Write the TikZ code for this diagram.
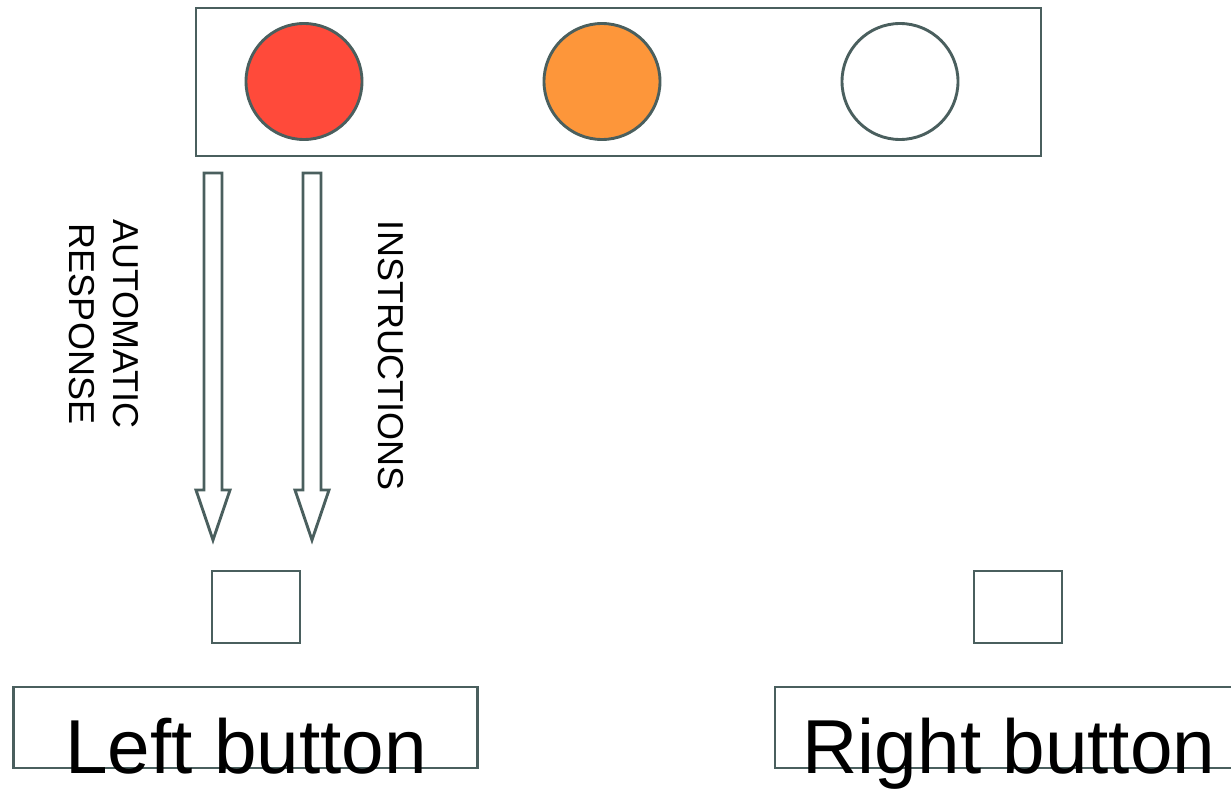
\documentclass[tikz,border=0pt]{standalone}
\usepackage{fontspec}
\setmainfont{Liberation Sans}
\definecolor{edge}{HTML}{4A5F5E}
\definecolor{lampred}{HTML}{FF4A3A}
\definecolor{lamporange}{HTML}{FD963A}
\tikzset{
  stroke/.style={draw=edge, line width=2.9bp},
  lamp/.style={stroke, circle, minimum size=116bp, inner sep=0pt},
  boxed/.style={stroke, rectangle, inner sep=0pt},
  blockarrow/.pic={\draw[stroke, line join=miter] (-9,0) -- (-9,317) -- (-17,317) -- (0,367) -- (17,317) -- (9,317) -- (9,0) -- cycle;},
  sidelabel/.style={rotate=-90, align=center, inner sep=0pt, font=\fontsize{36bp}{44bp}\selectfont},
  biglabel/.style={inner sep=0pt, anchor=base, font=\fontsize{76.5bp}{80bp}\selectfont}
}
\begin{document}
\begin{tikzpicture}[x=1bp, y=-1bp]
\useasboundingbox (0,0) rectangle (1231,789);
\clip (0,0) rectangle (1231,789);
% top panel
\node[boxed, minimum width=845bp, minimum height=148bp] (panel) at (618.5,82) {};
\node[lamp, fill=lampred] (red) at (304,81.5) {};
\node[lamp, fill=lamporange] (orange) at (602,81.5) {};
\node[lamp, fill=white] (white) at (900,81.5) {};
% block arrows
\pic at (213,173) {blockarrow};
\pic at (312,173) {blockarrow};
% labels
\node[sidelabel] (auto) at (104,324) {AUTOMATIC\\RESPONSE};
\node[sidelabel] (instr) at (391,356) {INSTRUCTIONS};
% small squares
\node[boxed, minimum width=88bp, minimum height=72bp] (lsq) at (256,607) {};
\node[boxed, minimum width=88bp, minimum height=72bp] (rsq) at (1018,607) {};
% big buttons
\node[boxed, minimum width=464bp, minimum height=81bp] (lbtn) at (245.7,727.5) {};
\node[boxed, minimum width=468bp, minimum height=81bp] (rbtn) at (1009,727.5) {};
\node[biglabel] (ltext) at (246,773) {Left button};
\node[biglabel] (rtext) at (1009,773) {Right button};
\end{tikzpicture}
\end{document}
